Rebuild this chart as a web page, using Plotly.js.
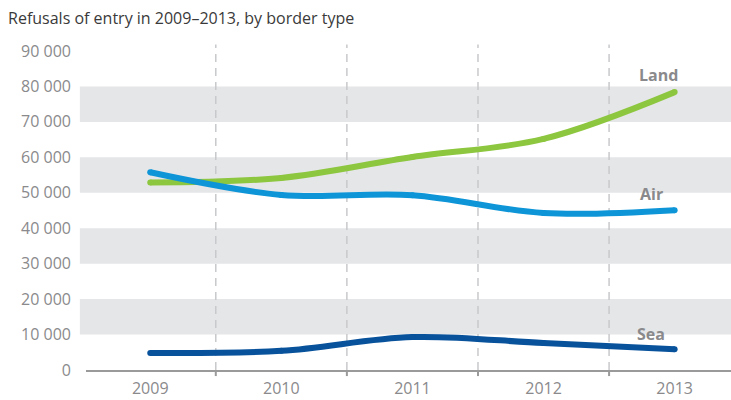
<!DOCTYPE html>
<html><head><meta charset="utf-8">
<script src="https://cdn.plot.ly/plotly-3.0.1.min.js"></script>
<style>html,body{margin:0;padding:0;background:#fff}#chart{width:731px;height:400px}</style>
</head><body><div id="chart"></div>
<script>
const years = ['2009','2010','2011','2012','2013'];
const land = [52900, 54200, 60100, 65200, 78400];
const air = [55800, 49400, 49300, 44300, 45100];
const sea = [4800, 5400, 9300, 7600, 5850];
const seriesNames = ['Land','Air','Sea'];
const yTicks = [0,10000,20000,30000,40000,50000,60000,70000,80000,90000];

const colors = {Land:'#8dc63f', Air:'#0d95d8', Sea:'#08529c'};
const xi = years.map((_, i) => i);
function tr(name, vals){
  return {x: xi, y: vals, type:'scatter', mode:'lines+markers', name,
    line:{color:colors[name], width:6, shape:'spline', smoothing:1},
    marker:{color:colors[name], size:6}, hoverinfo:'skip', cliponaxis:false};
}
const shapes = [];
// shaded bands
for (let k = 1; k < yTicks.length - 1; k += 2) {
  shapes.push({type:'rect', xref:'paper', yref:'y', x0:-0.0095, x1:1, y0:yTicks[k], y1:yTicks[k+1],
    fillcolor:'#e5e6e8', line:{width:0}, layer:'below'});
}
// dashed separators + small ticks
for (let i = 0; i < years.length - 1; i++) {
  shapes.push({type:'line', xref:'x', yref:'paper', x0:i+0.5, x1:i+0.5, y0:0, y1:1.02,
    line:{color:'#c8c9cb', width:1.5, dash:'8px,6px'}, layer:'below'});
  shapes.push({type:'line', xref:'x', yref:'paper', x0:i+0.5, x1:i+0.5, y0:-0.019, y1:0,
    line:{color:'#9a9a9a', width:2}});
}
const labelPos = {Land:[3.88, 83300], Air:[3.82, 49700], Sea:[3.82, 10200]};
const annotations = seriesNames.map(n => ({xref:'x', yref:'y', x:labelPos[n][0], y:labelPos[n][1],
  text:'<b>'+n+'</b>', showarrow:false, font:{family:'Open Sans', size:16, color:'#8a8a8c'}}));

const layout = {
  width:731, height:400,
  margin:{l:86, r:0, t:51, b:30},
  paper_bgcolor:'#fff', plot_bgcolor:'rgba(0,0,0,0)',
  showlegend:false,
  separators:'. ',
  font:{family:'Open Sans', color:'#8a8a8c'},
  title:{text:'Refusals of entry in 2009–2013, by border type', x:0.011, xanchor:'left', y:0.955, yanchor:'middle',
    font:{family:'Open Sans', size:16, color:'#3a3a3a'}},
  xaxis:{range:[-0.49, 4.43], tickvals:xi, ticktext:years, showgrid:false, zeroline:false,
    showline:true, linecolor:'#9a9a9a', linewidth:2, ticks:'', ticklabelstandoff:3,
    tickfont:{family:'Open Sans', size:16, color:'#8a8a8c'}, fixedrange:true},
  yaxis:{range:[0, 90000], tickvals:yTicks, tickformat:',d', showgrid:false, zeroline:false,
    showline:false, ticks:'', ticklabelstandoff:14,
    tickfont:{family:'Open Sans', size:16, color:'#8a8a8c'}, fixedrange:true},
  shapes, annotations
};
Plotly.newPlot('chart', [tr('Land', land), tr('Air', air), tr('Sea', sea)], layout, {displayModeBar:false, staticPlot:true});
</script></body></html>
